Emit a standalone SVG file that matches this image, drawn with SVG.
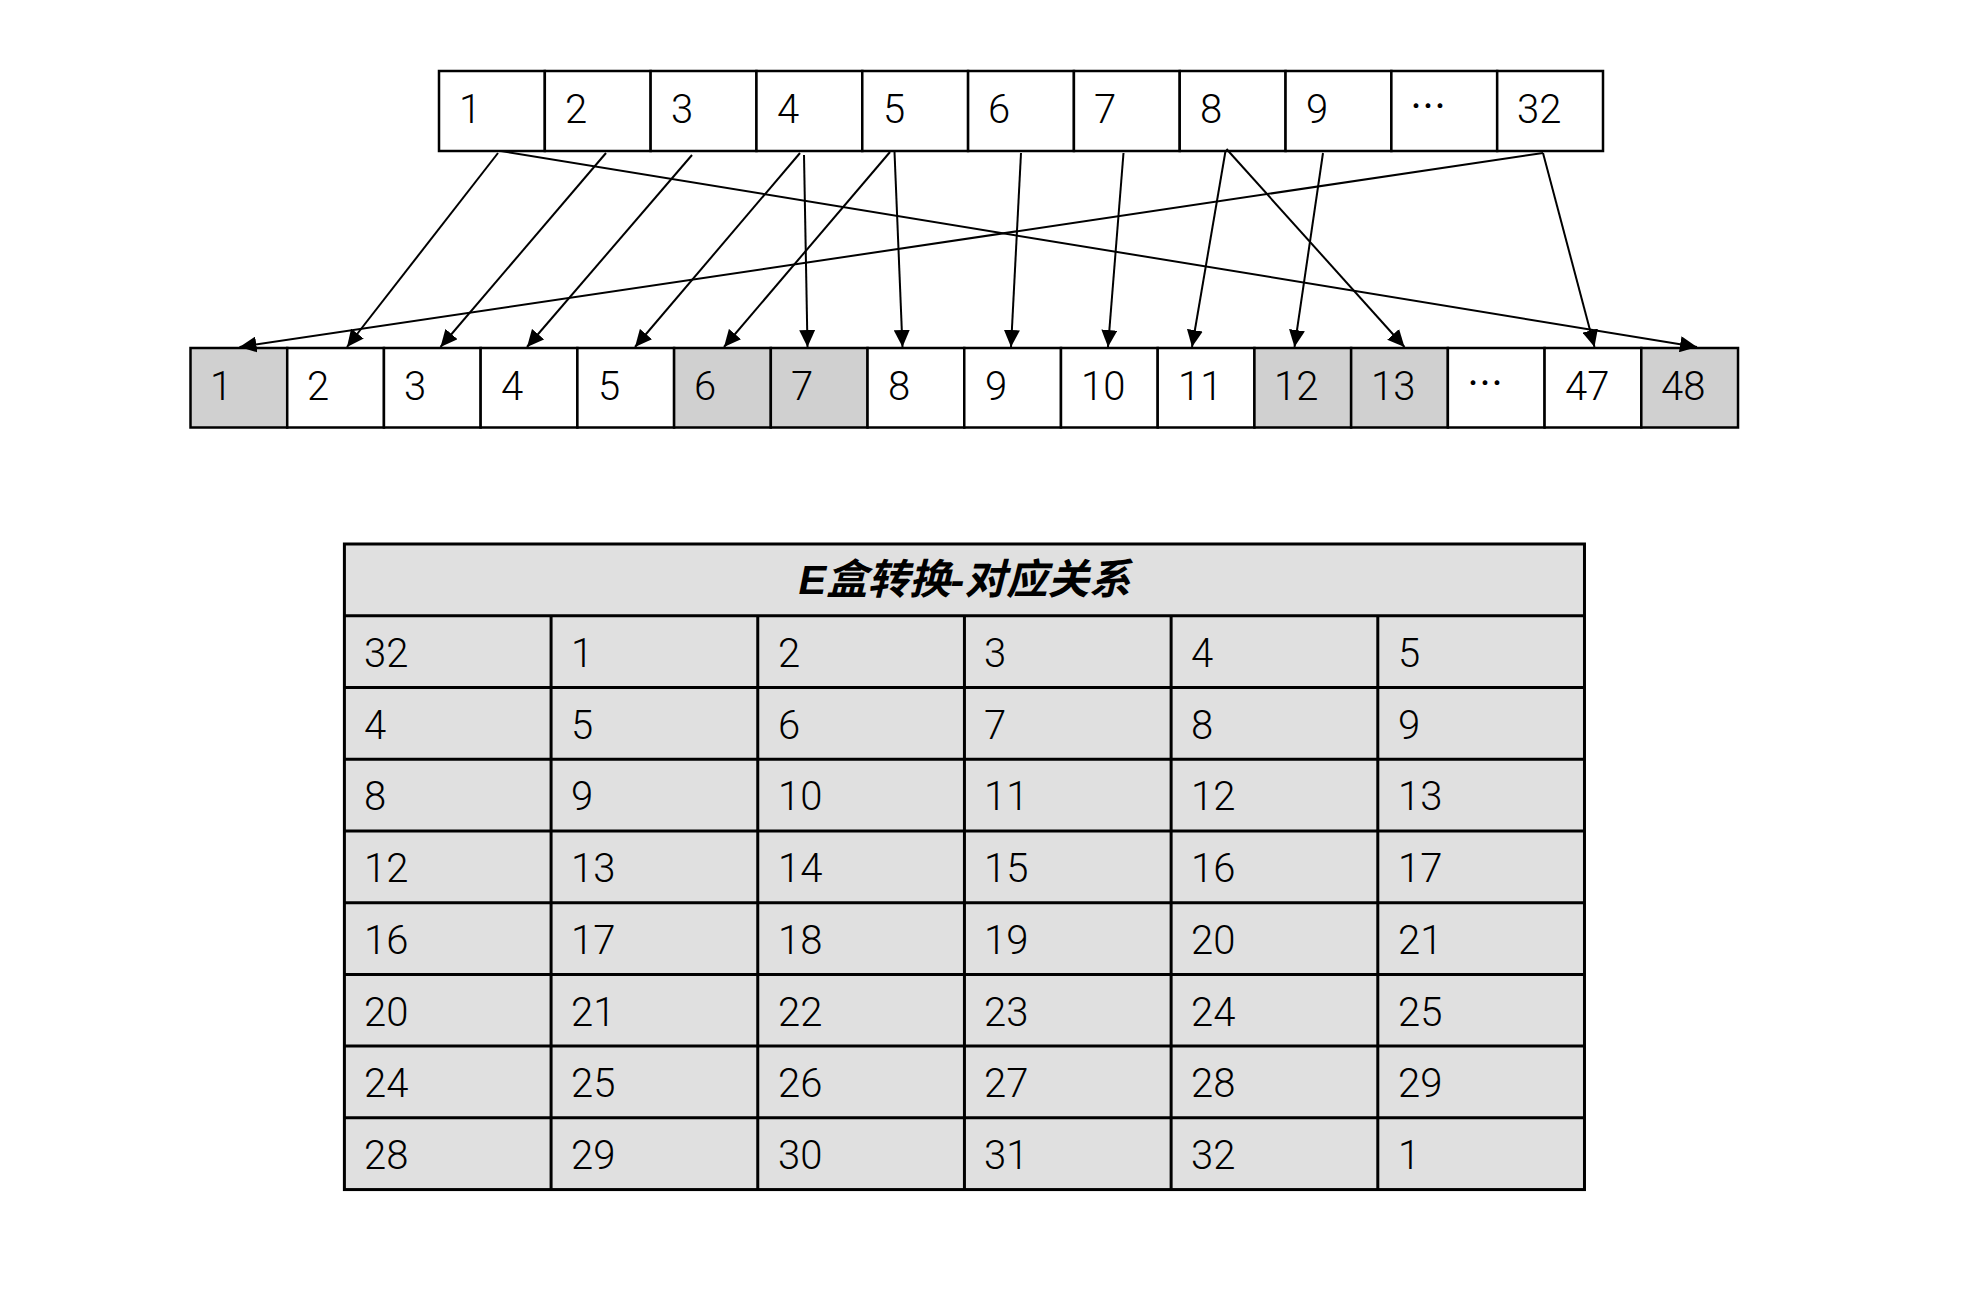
<svg xmlns="http://www.w3.org/2000/svg" width="1978" height="1310" viewBox="0 0 1978 1310">
<style>
.bg{fill:#ffffff}
.cell{fill:#ffffff;stroke:#000;stroke-width:2.5}
.hl{fill:#d0d0d0;stroke:#000;stroke-width:2.5}
.t{font-family:Roboto,"Liberation Sans","Noto Sans CJK SC",sans-serif;font-weight:300;font-size:40px;fill:#000}
.e{font-family:"Noto Sans CJK SC",sans-serif;font-size:36px;fill:#000}
.tb{fill:#e0e0e0;stroke:#000;stroke-width:3}
.gl{stroke:#000;stroke-width:3;fill:none}
.title{font-family:"Liberation Sans","Noto Sans CJK SC",sans-serif;font-size:41.5px;font-weight:bold;font-style:italic;fill:#000}
.c{stroke:#000;stroke-width:2;fill:none;marker-end:url(#ah)}
</style>
<defs>
<marker id="ah" markerUnits="userSpaceOnUse" markerWidth="17" markerHeight="16" refX="17" refY="8" orient="auto">
<path d="M0,0 L17,8 L0,16 z" fill="#000"/>
</marker>
</defs>
<rect class="bg" x="0" y="0" width="1978" height="1310"/>

<g id="top-row">
<g id="a1"><rect class="cell" x="439" y="71" width="105.82" height="80"/><text class="t" x="459" y="123">1</text></g>
<g id="a2"><rect class="cell" x="544.82" y="71" width="105.82" height="80"/><text class="t" x="565" y="123">2</text></g>
<g id="a3"><rect class="cell" x="650.64" y="71" width="105.82" height="80"/><text class="t" x="671" y="123">3</text></g>
<g id="a4"><rect class="cell" x="756.45" y="71" width="105.82" height="80"/><text class="t" x="777" y="123">4</text></g>
<g id="a5"><rect class="cell" x="862.27" y="71" width="105.82" height="80"/><text class="t" x="883" y="123">5</text></g>
<g id="a6"><rect class="cell" x="968.09" y="71" width="105.82" height="80"/><text class="t" x="988" y="123">6</text></g>
<g id="a7"><rect class="cell" x="1073.91" y="71" width="105.82" height="80"/><text class="t" x="1094" y="123">7</text></g>
<g id="a8"><rect class="cell" x="1179.73" y="71" width="105.82" height="80"/><text class="t" x="1200" y="123">8</text></g>
<g id="a9"><rect class="cell" x="1285.55" y="71" width="105.82" height="80"/><text class="t" x="1306" y="123">9</text></g>
<g id="a10"><rect class="cell" x="1391.36" y="71" width="105.82" height="80"/><text class="e" x="1410" y="120">…</text></g>
<g id="a32"><rect class="cell" x="1497.18" y="71" width="105.82" height="80"/><text class="t" x="1517" y="123">32</text></g>
</g>

<g id="bottom-row">
<g id="b1"><rect class="hl" x="190.5" y="348" width="96.72" height="79.5"/><text class="t" x="210" y="400">1</text></g>
<g id="b2"><rect class="cell" x="287.22" y="348" width="96.72" height="79.5"/><text class="t" x="307" y="400">2</text></g>
<g id="b3"><rect class="cell" x="383.94" y="348" width="96.72" height="79.5"/><text class="t" x="404" y="400">3</text></g>
<g id="b4"><rect class="cell" x="480.66" y="348" width="96.72" height="79.5"/><text class="t" x="501" y="400">4</text></g>
<g id="b5"><rect class="cell" x="577.38" y="348" width="96.72" height="79.5"/><text class="t" x="598" y="400">5</text></g>
<g id="b6"><rect class="hl" x="674.1" y="348" width="96.72" height="79.5"/><text class="t" x="694" y="400">6</text></g>
<g id="b7"><rect class="hl" x="770.82" y="348" width="96.72" height="79.5"/><text class="t" x="791" y="400">7</text></g>
<g id="b8"><rect class="cell" x="867.54" y="348" width="96.72" height="79.5"/><text class="t" x="888" y="400">8</text></g>
<g id="b9"><rect class="cell" x="964.26" y="348" width="96.72" height="79.5"/><text class="t" x="985" y="400">9</text></g>
<g id="b10"><rect class="cell" x="1060.98" y="348" width="96.72" height="79.5"/><text class="t" x="1081" y="400">10</text></g>
<g id="b11"><rect class="cell" x="1157.7" y="348" width="96.72" height="79.5"/><text class="t" x="1178" y="400">11</text></g>
<g id="b12"><rect class="hl" x="1254.42" y="348" width="96.72" height="79.5"/><text class="t" x="1274" y="400">12</text></g>
<g id="b13"><rect class="hl" x="1351.14" y="348" width="96.72" height="79.5"/><text class="t" x="1371" y="400">13</text></g>
<g id="b14"><rect class="cell" x="1447.86" y="348" width="96.72" height="79.5"/><text class="e" x="1467" y="397">…</text></g>
<g id="b47"><rect class="cell" x="1544.58" y="348" width="96.72" height="79.5"/><text class="t" x="1565" y="400">47</text></g>
<g id="b48"><rect class="hl" x="1641.3" y="348" width="96.72" height="79.5"/><text class="t" x="1661" y="400">48</text></g>
</g>

<g id="connectors">
<line class="c" x1="498" y1="153" x2="347" y2="347"/>
<line class="c" x1="501" y1="151" x2="1697" y2="347"/>
<line class="c" x1="606" y1="153" x2="440.5" y2="347"/>
<line class="c" x1="692" y1="155" x2="527" y2="347"/>
<line class="c" x1="800" y1="153" x2="635" y2="347"/>
<line class="c" x1="804" y1="155" x2="807.5" y2="347"/>
<line class="c" x1="890" y1="152" x2="724" y2="347"/>
<line class="c" x1="894.5" y1="152" x2="902.5" y2="347"/>
<line class="c" x1="1021" y1="153" x2="1011" y2="347"/>
<line class="c" x1="1123.5" y1="153" x2="1108" y2="347"/>
<line class="c" x1="1225.5" y1="151" x2="1192" y2="347"/>
<line class="c" x1="1226.5" y1="149" x2="1404.5" y2="347"/>
<line class="c" x1="1323" y1="153" x2="1294.5" y2="347"/>
<line class="c" x1="1543" y1="153" x2="1594.5" y2="347"/>
<line class="c" x1="1543" y1="153" x2="239.5" y2="347"/>
</g>

<g id="table">
<rect class="tb" x="344.4" y="544" width="1240.08" height="645.57"/>
<path class="gl" d="M344.4 615.73H1584.48M344.4 687.46H1584.48M344.4 759.19H1584.48M344.4 830.92H1584.48M344.4 902.65H1584.48M344.4 974.38H1584.48M344.4 1046.11H1584.48M344.4 1117.84H1584.48"/>
<path class="gl" d="M551.08 615.73V1189.57M757.76 615.73V1189.57M964.44 615.73V1189.57M1171.12 615.73V1189.57M1377.8 615.73V1189.57"/>
<text class="title" x="964.44" y="594" text-anchor="middle">E盒转换-对应关系</text>
<g class="t">
<text x="364" y="667">32</text><text x="571" y="667">1</text><text x="778" y="667">2</text><text x="984" y="667">3</text><text x="1191" y="667">4</text><text x="1398" y="667">5</text>
<text x="364" y="739">4</text><text x="571" y="739">5</text><text x="778" y="739">6</text><text x="984" y="739">7</text><text x="1191" y="739">8</text><text x="1398" y="739">9</text>
<text x="364" y="810">8</text><text x="571" y="810">9</text><text x="778" y="810">10</text><text x="984" y="810">11</text><text x="1191" y="810">12</text><text x="1398" y="810">13</text>
<text x="364" y="882">12</text><text x="571" y="882">13</text><text x="778" y="882">14</text><text x="984" y="882">15</text><text x="1191" y="882">16</text><text x="1398" y="882">17</text>
<text x="364" y="954">16</text><text x="571" y="954">17</text><text x="778" y="954">18</text><text x="984" y="954">19</text><text x="1191" y="954">20</text><text x="1398" y="954">21</text>
<text x="364" y="1026">20</text><text x="571" y="1026">21</text><text x="778" y="1026">22</text><text x="984" y="1026">23</text><text x="1191" y="1026">24</text><text x="1398" y="1026">25</text>
<text x="364" y="1097">24</text><text x="571" y="1097">25</text><text x="778" y="1097">26</text><text x="984" y="1097">27</text><text x="1191" y="1097">28</text><text x="1398" y="1097">29</text>
<text x="364" y="1169">28</text><text x="571" y="1169">29</text><text x="778" y="1169">30</text><text x="984" y="1169">31</text><text x="1191" y="1169">32</text><text x="1398" y="1169">1</text>
</g>
</g>
</svg>
